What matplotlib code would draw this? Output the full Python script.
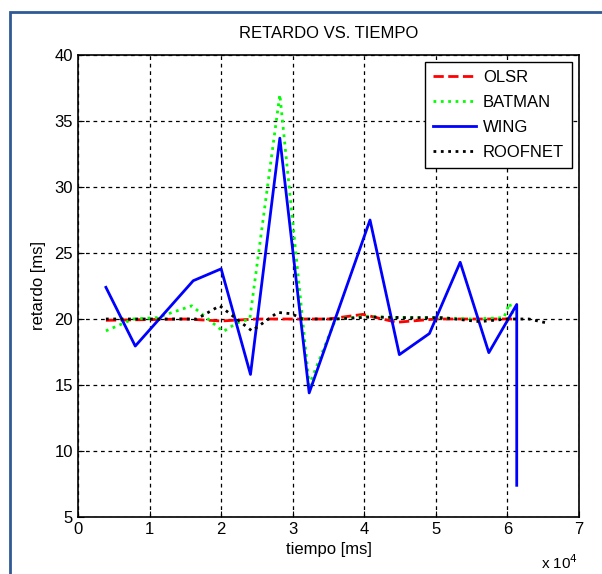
import matplotlib.pyplot as plt
from matplotlib.patches import Rectangle
from matplotlib.ticker import FuncFormatter

plt.rcParams["font.family"] = ["Liberation Sans", "DejaVu Sans"]

# tiempo [ms] / retardo [ms]
olsr_t = [3900, 15000, 20000, 25000, 30000, 35000, 39800, 44500, 50000, 55000, 60000, 61000]
olsr_r = [19.9, 20.0, 19.85, 20.0, 20.0, 20.0, 20.35, 19.75, 20.0, 20.0, 20.0, 20.0]

batman_t = [3900, 7700, 11000, 15900, 20300, 22200, 24000, 28200, 32300, 36000,
            40000, 45000, 50000, 55000, 59500, 60300, 61000]
batman_r = [19.1, 20.0, 20.1, 21.0, 19.05, 19.7, 20.0, 37.0, 15.0, 20.0,
            20.2, 20.1, 20.1, 20.0, 20.1, 21.2, 20.0]

wing_t = [3900, 8000, 16100, 20000, 24100, 28200, 32300, 40800, 44900, 49100,
          53400, 57400, 61300, 61300]
wing_r = [22.4, 17.95, 22.9, 23.8, 15.8, 33.7, 14.4, 27.5, 17.3, 18.9,
          24.3, 17.45, 21.1, 7.4]

roofnet_t = [3900, 10000, 16600, 19800, 24300, 27900, 29800, 31400, 36000, 41000,
             46000, 51000, 56100, 60000, 63000, 65500]
roofnet_r = [20.0, 20.0, 20.0, 21.0, 19.1, 20.5, 20.4, 20.0, 20.0, 20.15,
             20.1, 20.1, 19.8, 20.0, 20.0, 19.7]

fig = plt.figure(figsize=(6.02, 5.74), dpi=100)
fig.patch.set_facecolor("white")
# blue frame around the figure (runs off right/bottom edge in the original)
fig.patches.append(Rectangle((10 / 602, -0.05), 1.1, 1 - 12 / 574 + 0.05,
                             transform=fig.transFigure, fill=False,
                             edgecolor="#2f5a96", linewidth=2))

ax = fig.add_axes([78 / 602, 57 / 574, 501 / 602, 462 / 574])

ax.plot(olsr_t, olsr_r, color="red", linestyle="--", linewidth=2, label="OLSR")
ax.plot(batman_t, batman_r, color="#00ff00", linestyle=":", linewidth=2, label="BATMAN")
ax.plot(wing_t, wing_r, color="blue", linestyle="-", linewidth=2, label="WING")
ax.plot(roofnet_t, roofnet_r, color="black", linestyle=":", linewidth=2, label="ROOFNET")

ax.set_xlim(0, 70000)
ax.set_ylim(5, 40)
ax.set_xticks(range(0, 70001, 10000))
ax.set_yticks(range(5, 41, 5))
ax.xaxis.set_major_formatter(FuncFormatter(lambda v, p: f"{v / 1e4:g}"))
ax.tick_params(direction="in", labelsize=12, length=4)
ax.grid(True, color="black", linestyle=(0, (3, 3)), linewidth=0.9)
for s in ax.spines.values():
    s.set_linewidth(1.2)

ax.set_title("RETARDO VS. TIEMPO", fontsize=12, pad=12)
ax.set_xlabel("tiempo [ms]", fontsize=12, labelpad=4)
ax.set_ylabel("retardo [ms]", fontsize=12, labelpad=6)
fig.text(560 / 602, 1 - 563 / 574, "x 10$^{4}$", fontsize=11, ha="center", va="center")

leg = ax.legend(loc="upper right", fontsize=12, fancybox=False, framealpha=1,
                edgecolor="black", borderaxespad=0.4, handlelength=2.6,
                handletextpad=0.4, labelspacing=0.6, borderpad=0.5)
leg.get_frame().set_linewidth(1)

fig.savefig("out.png", dpi=100)
